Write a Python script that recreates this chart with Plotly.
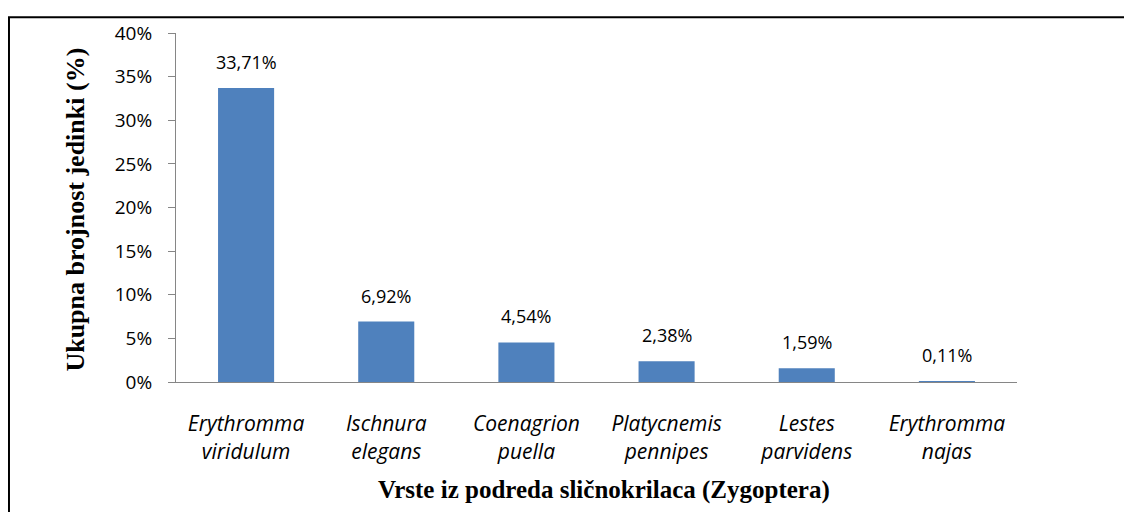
import plotly.graph_objects as go

categories = ["Erythromma viridulum", "Ischnura elegans", "Coenagrion puella",
              "Platycnemis pennipes", "Lestes parvidens", "Erythromma najas"]
tick_labels = ["Erythromma<br>viridulum", "Ischnura<br>elegans", "Coenagrion<br>puella",
               "Platycnemis<br>pennipes", "Lestes<br>parvidens", "Erythromma<br>najas"]
values = [33.71, 6.92, 4.54, 2.38, 1.59, 0.11]
value_labels = ["33,71%", "6,92%", "4,54%", "2,38%", "1,59%", "0,11%"]
y_ticks = [0, 5, 10, 15, 20, 25, 30, 35, 40]
y_tick_labels = [f"{v}%" for v in y_ticks]

BAR = "#4F81BD"
AXIS = "#868686"
SANS = "'Open Sans', Lato, sans-serif"
SERIF = "'Liberation Serif', 'Times New Roman', serif"

fig = go.Figure()
fig.add_trace(go.Bar(
    x=categories, y=values, width=0.4,
    marker=dict(color=BAR, line=dict(width=0)),
    hoverinfo="skip",
))

for c, v, t in zip(categories, values, value_labels):
    fig.add_annotation(x=c, y=v, text=t, showarrow=False, xref="x", yref="y",
                       yanchor="bottom", yshift=12,
                       font=dict(family=SANS, size=18, color="#000000"))

fig.add_annotation(text="<b>Ukupna brojnost jedinki (%)</b>", xref="paper", yref="paper",
                   x=-0.1189, y=0.494, textangle=-90, showarrow=False,
                   xanchor="center", yanchor="middle",
                   font=dict(family=SERIF, size=26, color="#000000"))
fig.add_annotation(text="<b>Vrste iz podreda sličnokrilaca (Zygoptera)</b>", xref="paper", yref="paper",
                   x=0.509, y=-0.3088, showarrow=False,
                   xanchor="center", yanchor="middle",
                   font=dict(family=SERIF, size=25, color="#000000"))

# outer frame (left and top edges)
fig.add_shape(type="line", xref="paper", yref="paper", x0=-0.1986, x1=-0.1986, y0=1.0453, y1=-0.4,
              line=dict(color="#000000", width=2))
fig.add_shape(type="line", xref="paper", yref="paper", x0=-0.1998, x1=1.2, y0=1.0453, y1=1.0453,
              line=dict(color="#000000", width=2))

fig.update_xaxes(
    type="category", tickmode="array", tickvals=categories, ticktext=tick_labels,
    showline=True, linecolor=AXIS, linewidth=1, ticks="", showgrid=False, zeroline=False,
    tickfont=dict(family=SANS, size=21, color="#000000", style="italic"),
    ticklabelstandoff=23,
)
fig.update_yaxes(
    range=[0, 40], tickmode="array", tickvals=y_ticks, ticktext=y_tick_labels,
    showline=True, linecolor=AXIS, linewidth=1, ticks="outside", ticklen=7, tickcolor=AXIS,
    tickwidth=1, showgrid=False, zeroline=False, ticklabelstandoff=12,
    tickfont=dict(family=SANS, size=19, color="#000000"),
)
fig.update_layout(
    width=1124, height=504, autosize=False,
    margin=dict(l=168, r=115, t=21, b=130),
    plot_bgcolor="white", paper_bgcolor="white",
    showlegend=False, bargap=0.6,
)
fig.write_html("out.html")
